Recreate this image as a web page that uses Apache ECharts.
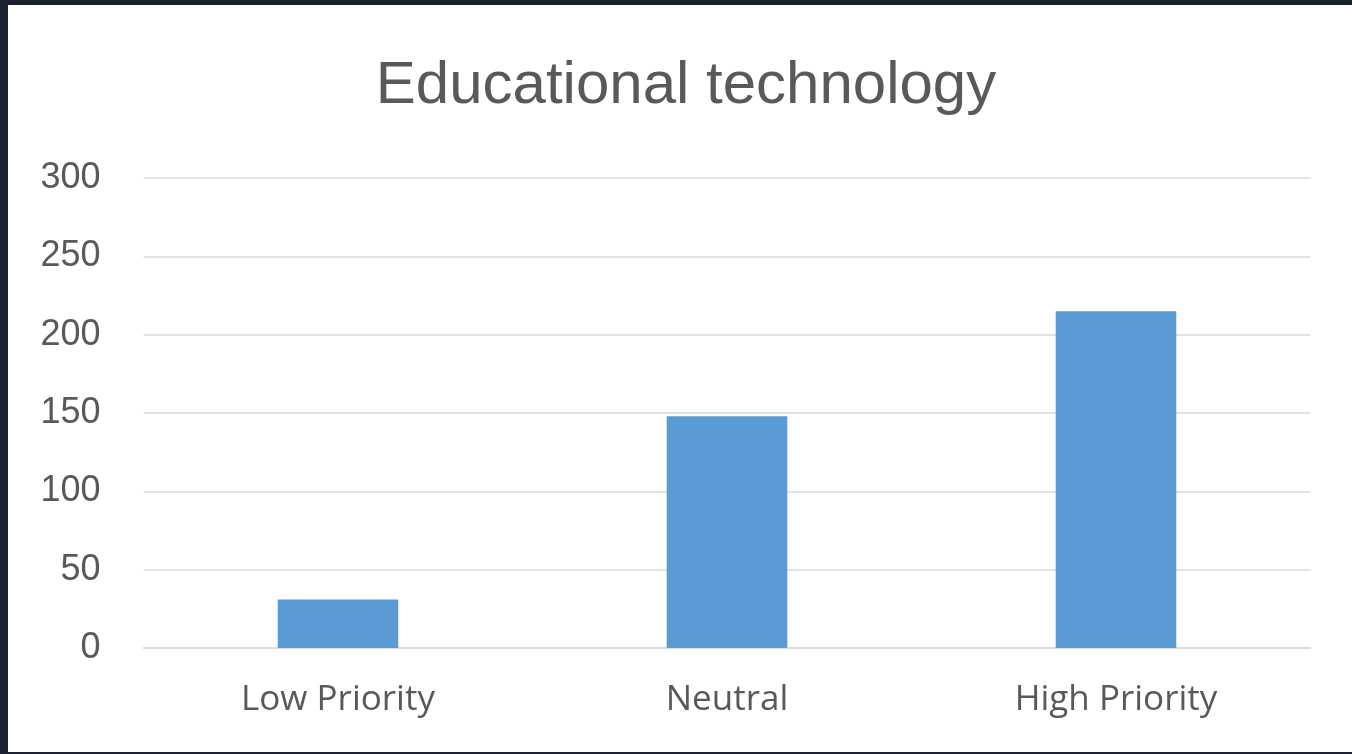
<!DOCTYPE html>
<html>
<head>
<meta charset="utf-8">
<script src="https://cdn.jsdelivr.net/npm/echarts@6/dist/echarts.min.js"></script>
<style>
  html, body { margin: 0; padding: 0; width: 1352px; height: 754px; background: #1c2230; overflow: hidden; }
  #chart { position: absolute; left: 8px; top: 5px; width: 1344px; height: 747px; background: #ffffff; }
</style>
</head>
<body>
<div id="chart"></div>
<script>
const titleText = 'Educational technology';
const categories = ['Low Priority', 'Neutral', 'High Priority'];
const values = [31, 148, 215];
const yTicks = [0, 50, 100, 150, 200, 250, 300];

const chart = echarts.init(document.getElementById('chart'), null, { renderer: 'canvas' });
chart.setOption({
  backgroundColor: '#ffffff',
  animation: false,
  title: {
    text: titleText,
    left: 673,
    textAlign: 'center',
    top: 46,
    textStyle: { fontFamily: 'Liberation Sans', fontSize: 60, fontWeight: 'normal', color: '#595959' }
  },
  grid: { left: 135.5, right: 41.5, top: 173, bottom: 104, containLabel: false },
  xAxis: {
    type: 'category',
    data: categories,
    axisTick: { show: false },
    axisLine: { lineStyle: { color: '#d9d9d9', width: 1.5 } },
    axisLabel: { color: '#595959', fontFamily: 'Open Sans', fontSize: 35, margin: 35 }
  },
  yAxis: {
    type: 'value',
    min: yTicks[0],
    max: yTicks[yTicks.length - 1],
    interval: 50,
    axisLine: { show: false },
    axisTick: { show: false },
    splitLine: { lineStyle: { color: '#d9d9d9', width: 1.5 } },
    axisLabel: { color: '#595959', fontFamily: 'Liberation Sans', fontSize: 36, margin: 43 }
  },
  series: [{
    type: 'bar',
    data: values,
    barWidth: '31%',
    itemStyle: { color: '#5b9bd5' }
  }]
});
</script>
</body>
</html>
